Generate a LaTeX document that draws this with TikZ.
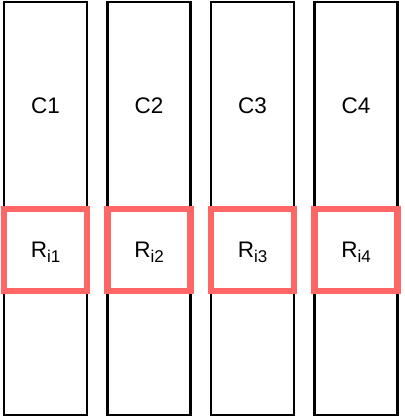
\documentclass[tikz,border=0pt]{standalone}
\usepackage{fontspec}
\setmainfont{Liberation Sans}
\definecolor{rbox}{HTML}{FF6666}
\begin{document}
\begin{tikzpicture}[x=1pt,y=1pt,
  col/.style={draw=black,line width=2.2pt,minimum width=83pt,minimum height=413pt,inner sep=0pt},
  rsel/.style={draw=rbox,line width=6.5pt,minimum width=83pt,minimum height=82pt,inner sep=0pt},
  lab/.style={font=\fontsize{22.5}{26}\selectfont,anchor=base,inner sep=0pt}]
\useasboundingbox (0,0) rectangle (404,420);
\foreach \i/\x in {1/45.5,2/149,3/252.5,4/356}{
  \node[col] (c\i) at (\x,211.5) {};
  \node[lab] (t\i) at (\x,306) {C\i};
  \node[rsel] (r\i) at (\x,170) {};
  \node[lab] (s\i) at (\x,162) {R\raisebox{-4.5pt}{\fontsize{17}{20}\selectfont i\i}};
}
\end{tikzpicture}
\end{document}
